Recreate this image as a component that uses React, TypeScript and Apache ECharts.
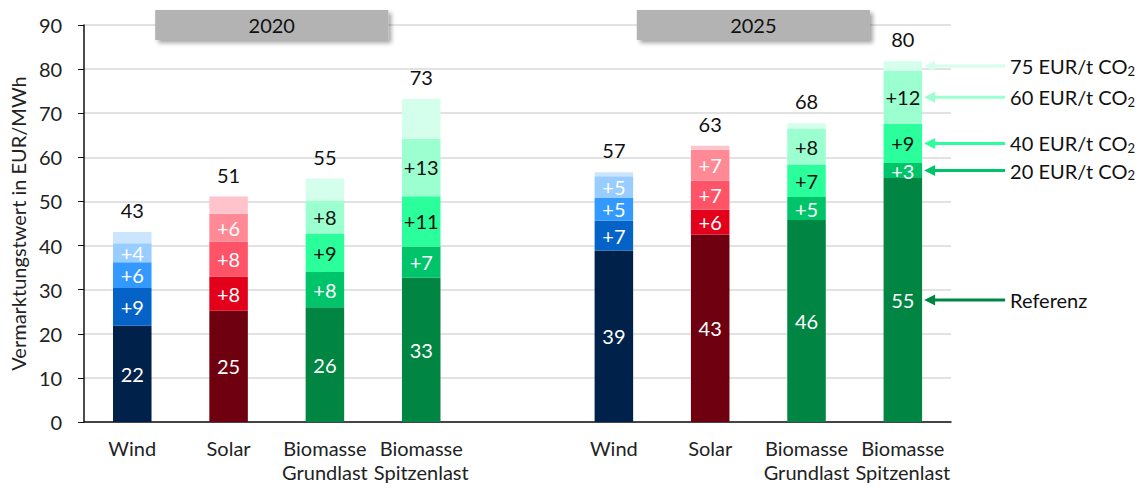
import { useEffect, useRef } from "react";
import * as echarts from "echarts";

const categories = [
  "Wind",
  "Solar",
  "Biomasse\nGrundlast",
  "Biomasse\nSpitzenlast",
  "",
  "Wind",
  "Solar",
  "Biomasse\nGrundlast",
  "Biomasse\nSpitzenlast",
];
const categoryType = ["wind", "solar", "bio", "bio", "", "wind", "solar", "bio", "bio"];
const yearLabels = ["2020", "2025"];

const referenz = [21.8, 25.2, 26.0, 32.7, null, 38.9, 42.5, 45.8, 55.3];
const co2_20 = [8.6, 7.8, 8.0, 7.1, null, 6.7, 5.6, 5.2, 3.4];
const co2_40 = [5.8, 7.9, 8.6, 11.4, null, 5.2, 6.6, 7.4, 8.9];
const co2_60 = [4.3, 6.3, 7.6, 13.0, null, 4.9, 7.0, 8.0, 12.0];
const co2_75 = [2.6, 3.9, 5.0, 9.0, null, 0.9, 0.9, 1.3, 2.2];
const totals = [43, 51, 55, 73, null, 57, 63, 68, 80];

const seriesNames = ["Referenz", "20 EUR/t CO2", "40 EUR/t CO2", "60 EUR/t CO2", "75 EUR/t CO2"];
const seriesData = [referenz, co2_20, co2_40, co2_60, co2_75];

const palette: Record<string, string[]> = {
  wind: ["#00214A", "#0563C8", "#3399FF", "#99CCFF", "#CCE5FF"],
  solar: ["#6E0010", "#E2001A", "#FF5468", "#FF8A96", "#FFC4CB"],
  bio: ["#008542", "#00C46A", "#2BFF9C", "#9BFFD0", "#D4FFEC"],
};
const labelColors: Record<string, string[]> = {
  wind: ["#fff", "#fff", "#fff", "#fff", "#111"],
  solar: ["#fff", "#fff", "#fff", "#fff", "#111"],
  bio: ["#fff", "#fff", "#111", "#111", "#111"],
};

const FONT = "Lato, 'Noto Sans', sans-serif";

export default function App() {
  const ref = useRef<HTMLDivElement>(null);

  useEffect(() => {
    const chart = echarts.init(ref.current!, null, { renderer: "svg" });

    const series = seriesData.map((arr, si) => ({
      name: seriesNames[si],
      type: "bar",
      stack: "total",
      barWidth: "40%",
      data: arr.map((v, i) => {
        const t = categoryType[i];
        if (v === null || !t) return "-";
        return {
          value: v,
          itemStyle: { color: palette[t][si] },
          label: {
            color: labelColors[t][si],
          },
        };
      }),
      label: {
        show: true,
        position: si === 4 ? "top" : "inside",
        distance: si === 4 ? 12 : 5,
        fontFamily: FONT,
        fontSize: 20,
        formatter: (p: any) => {
          if (si === 0) return String(Math.round(p.value));
          if (si === 4) return String(totals[p.dataIndex]);
          return "+" + Math.round(p.value);
        },
      },
    }));

    chart.setOption({
      animation: false,
      textStyle: { fontFamily: FONT },
      grid: { left: 82, right: 193, top: 25, bottom: 66, containLabel: false },
      xAxis: {
        type: "category",
        data: categories,
        axisLine: { lineStyle: { color: "#111", width: 1.5 } },
        axisTick: { show: false },
        axisLabel: {
          interval: 0,
          fontSize: 20,
          color: "#222",
          lineHeight: 24,
          margin: 14,
          fontFamily: FONT,
        },
      },
      yAxis: {
        type: "value",
        min: 0,
        max: 90,
        interval: 10,
        name: "Vermarktungstwert in EUR/MWh",
        nameLocation: "middle",
        nameGap: 52,
        nameTextStyle: { fontSize: 20, color: "#222", fontFamily: FONT },
        axisLine: { show: true, lineStyle: { color: "#111", width: 1.5 } },
        axisTick: { show: true, inside: false, length: 6, lineStyle: { color: "#111" } },
        axisLabel: { fontSize: 20, color: "#222", margin: 22, fontFamily: FONT },
        splitLine: { lineStyle: { color: "#D9D9D9", width: 1.5 } },
      },
      series,
    });

    const px = (cat: number, val: number) =>
      chart.convertToPixel({ gridIndex: 0 }, [cat, val]) as number[];

    const band = px(1, 0)[0] - px(0, 0)[0];
    const barW = band * 0.4;
    const y90 = px(0, 90)[1];

    const graphics: any[] = [];
    // year boxes
    [
      [1, 2],
      [6, 7],
    ].forEach((pair, k) => {
      const cx = (px(pair[0], 0)[0] + px(pair[1], 0)[0]) / 2 - 5;
      const w = band * 2.42;
      graphics.push({
        type: "rect",
        z: 100,
        shape: { x: cx - w / 2, y: y90 - 15, width: w, height: 30 },
        style: {
          fill: "#B3B3B3",
          shadowBlur: 4,
          shadowOffsetX: 3,
          shadowOffsetY: 3,
          shadowColor: "rgba(0,0,0,0.35)",
        },
      });
      graphics.push({
        type: "text",
        z: 101,
        x: cx,
        y: y90,
        style: {
          text: yearLabels[k],
          fontSize: 20,
          fontFamily: FONT,
          fill: "#111",
          align: "center",
          verticalAlign: "middle",
        },
      });
    });

    // arrows pointing to the last bar
    const last = categories.length - 1;
    let cum = 0;
    seriesData.forEach((arr, si) => {
      const v = arr[last] as number;
      const mid = cum + v / 2;
      cum += v;
      const y = px(last, mid)[1];
      const tip = px(last, 0)[0] + barW / 2 + 2;
      const end = tip + 81;
      const col = palette.bio[si];
      graphics.push({
        type: "line",
        z: 50,
        shape: { x1: tip + 8, y1: y, x2: end, y2: y },
        style: { stroke: col, lineWidth: 3 },
      });
      graphics.push({
        type: "polygon",
        z: 50,
        shape: {
          points: [
            [tip, y],
            [tip + 11, y - 5.5],
            [tip + 11, y + 5.5],
          ],
        },
        style: { fill: col },
      });
      const isRef = si === 0;
      graphics.push({
        type: "text",
        z: 50,
        x: end + 5,
        y: y,
        style: {
          text: isRef ? "Referenz" : seriesNames[si].replace("CO2", "CO{s|2}"),
          fontSize: 20,
          fontFamily: FONT,
          fill: "#111",
          align: "left",
          verticalAlign: "middle",
          rich: {
            s: { fontSize: 13, fontFamily: FONT, fill: "#111", padding: [9, 0, 0, 0] },
          },
        },
      });
    });

    chart.setOption({ graphic: graphics });

    return () => chart.dispose();
  }, []);

  return (
    <div
      ref={ref}
      style={{ position: "fixed", left: 0, top: 0, width: 1144, height: 488, background: "#fff" }}
    />
  );
}
